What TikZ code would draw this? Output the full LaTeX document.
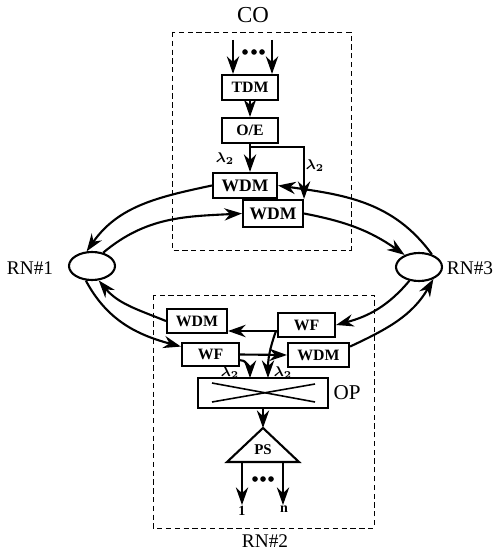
\documentclass[tikz,border=0pt]{standalone}
\usepackage{fontspec}
\setmainfont{Liberation Serif}
\usetikzlibrary{arrows.meta,shapes.geometric}
\tikzset{
  blk/.style={draw,line width=1.2pt,fill=white,inner sep=0pt,font=\bfseries\fontsize{9}{10}\selectfont},
  ring/.style={draw,line width=1.2pt,ellipse,minimum width=0.92cm,minimum height=0.56cm,inner sep=0pt},
  arr/.style={line width=1.2pt,-{Stealth[length=10pt,width=7pt]}},
  site/.style={line width=0.5pt,dash pattern=on 3pt off 2pt},
  lam/.style={font=\footnotesize\boldmath}
}
\begin{document}
\begin{tikzpicture}[x=0.02cm,y=0.02cm]
\useasboundingbox (0,0) rectangle (497,-553);
% dashed sites
\draw[site] (172,-32) rectangle (351,-250);
\draw[site] (153,-295) rectangle (374,-528);
\node[font=\fontsize{13}{15}\selectfont] (colab) at (253,-15) {CO};
\node[font=\fontsize{11}{13}\selectfont] (rn2lab) at (265,-541) {RN\#2};
% central office
\node[blk,minimum width=1.12cm,minimum height=0.5cm] (tdm) at (250,-87.5) {TDM};
\node[blk,minimum width=1.12cm,minimum height=0.5cm] (oe) at (250,-130.5) {O/E};
\node[blk,minimum width=1.28cm,minimum height=0.5cm,font=\bfseries\fontsize{10}{11}\selectfont] (wdma) at (245,-185.5) {WDM};
\node[blk,minimum width=1.2cm,minimum height=0.54cm,font=\bfseries\fontsize{10}{11}\selectfont] (wdmb) at (273,-213.5) {WDM};
\coordinate (ina) at (233,-40);
\coordinate (inb) at (272,-40);
\draw[arr] (ina) -- (ina |- tdm.north);
\draw[arr] (inb) -- (inb |- tdm.north);
\foreach \x in {245,254,262} \fill (\x,-52) circle (1.6pt);
\draw[arr] (tdm) -- (oe);
\draw[arr] (oe.south) -- (oe.south |- wdma.north);
\coordinate (jb) at (250,-147);
\draw[arr] (jb) -| (wdmb.north east);
\node[lam] (lama) at (225,-159) {$\lambda_2$};
\node[lam] (lamb) at (315,-166) {$\lambda_2$};
% remote nodes
\node[ring] (rna) at (92,-266) {};
\node[ring] (rnc) at (419,-267) {};
\node[font=\fontsize{11}{13}\selectfont] (rnalab) at (30,-268) {RN\#1};
\node[font=\fontsize{11}{13}\selectfont] (rnclab) at (470,-268) {RN\#3};
% ring fibres
\draw[arr] (rnc.45) to[out=126,in=-8] (wdma.east);
\draw[arr] (wdma.west) to[out=192,in=55] (rna.110);
\draw[arr] (rna.50) to[out=40,in=183] (wdmb.west);
\draw[arr] (wdmb.east) to[out=-11,in=145] (rnc.140);
% RN#2
\node[blk,minimum width=1.2cm,minimum height=0.48cm] (wdmc) at (197,-321) {WDM};
\node[blk,minimum width=1.14cm,minimum height=0.48cm] (wfa) at (306.5,-325) {WF};
\node[blk,minimum width=1.14cm,minimum height=0.46cm] (wfb) at (210.5,-354.5) {WF};
\node[blk,minimum width=1.22cm,minimum height=0.48cm] (wdmd) at (318.5,-355) {WDM};
\node[blk,minimum width=2.6cm,minimum height=0.6cm] (op) at (263,-393) {};
\draw[line width=0.9pt] (212,-383) -- (315,-402);
\draw[line width=0.9pt] (212,-402) -- (315,-384);
\node[font=\fontsize{12}{14}\selectfont] (oplab) at (347,-393) {OP};
\draw[arr] (wdmc.west) to[out=158,in=-50] (rna.-65);
\draw[arr] (rna.247) to[out=-62,in=165] (wfb.165);
\draw[arr] (rnc.235) to[out=230,in=15] (wfa.east);
\draw[arr] (wdmd.15) to[out=25,in=-120] (rnc.-40);
\coordinate (ja) at (276,-331);
\coordinate (opa) at (250,-378);
\coordinate (opb) at (268,-378);
\draw[arr] (wfa.west |- ja) -- (wdmc.east |- ja);
\draw[arr] (ja) to[out=250,in=90] (opb);
\draw[arr] (wfb.east) -- (wdmd.west);
\draw[arr] (wfb.-11) to[out=0,in=90] (opa);
\node[lam] (lamc) at (230,-373) {$\lambda_2$};
\node[lam] (lamd) at (283,-373) {$\lambda_2$};
% power splitter
\coordinate (pstop) at (263,-428);
\draw[line width=1.2pt] (pstop) -- (299,-462) -- (227,-462) -- cycle;
\node[font=\bfseries\fontsize{8.5}{10}\selectfont] (ps) at (263,-450) {PS};
\draw[arr] (op.south) -- (pstop);
\coordinate (psa) at (242,-462);
\coordinate (psb) at (283,-462);
\coordinate (outa) at (242,-505);
\coordinate (outb) at (283,-505);
\draw[arr] (psa) -- (outa);
\draw[arr] (psb) -- (outb);
\foreach \x in {255,263,271} \fill (\x,-479) circle (1.6pt);
\node[font=\bfseries\footnotesize] (onelab) at (242,-511) {1};
\node[font=\bfseries\footnotesize] (nlab) at (284,-509) {n};
\end{tikzpicture}
\end{document}
